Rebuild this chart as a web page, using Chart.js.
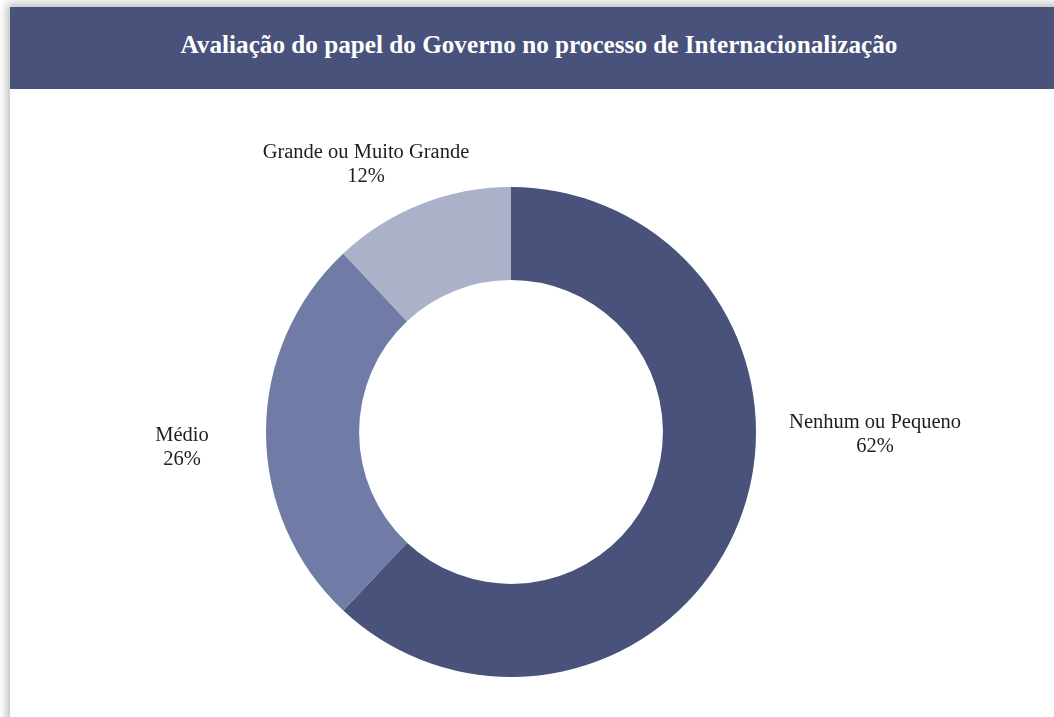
<!DOCTYPE html>
<html lang="pt">
<head>
<meta charset="utf-8">
<title>Avaliação do papel do Governo</title>
<script src="https://cdn.jsdelivr.net/npm/chart.js@4/dist/chart.umd.min.js"></script>
<style>
    html, body {
        margin: 0;
        padding: 0;
        background: #ffffff;
        overflow: hidden;
    }
    .panel {
        position: absolute;
        left: 10px;
        top: 7px;
        width: 1058px;
        height: 720px;
        background: #ffffff;
        box-shadow: 0 0 9px 3px rgba(0, 0, 0, 0.28);
    }
    .panel-header {
        height: 82px;
        background: #48527a;
        color: #ffffff;
        font-family: "Liberation Serif", "DejaVu Serif", serif;
        font-weight: bold;
        font-size: 25.2px;
        line-height: 76px;
        text-align: center;
    }
    .chart-wrap {
        position: relative;
        width: 1058px;
        height: 628px;
    }
</style>
</head>
<body>
<div class="panel">
    <div class="panel-header">Avaliação do papel do Governo no processo de Internacionalização</div>
    <div class="chart-wrap"><canvas id="govChart"></canvas></div>
</div>

<script>
// Categories and shares (%), clockwise from 12 o'clock
const categories = ["Nenhum ou Pequeno", "Médio", "Grande ou Muito Grande"];
const shares = [62, 26, 12];
const sliceColors = ["#48527a", "#717ca6", "#abb1c8"];

// Where each label sits, in multiples of the outer radius from the centre
const labelAnchors = [
    { x: 1.486, y: 0.01 },
    { x: -1.343, y: 0.062 },
    { x: -0.592, y: -1.09 }
];

// Draws "category / value%" as two centred lines next to each slice
const sliceLabels = {
    id: "sliceLabels",
    afterDatasetsDraw(chart) {
        const meta = chart.getDatasetMeta(0);
        const ctx = chart.ctx;
        const data = chart.data.datasets[0].data;
        ctx.save();
        ctx.font = "20.5px 'Liberation Serif', 'DejaVu Serif', serif";
        ctx.fillStyle = "#1e1e1e";
        ctx.textAlign = "center";
        ctx.textBaseline = "middle";
        meta.data.forEach((arc, i) => {
            const r = arc.outerRadius;
            const cx = arc.x + labelAnchors[i].x * r;
            const cy = arc.y + labelAnchors[i].y * r;
            ctx.fillText(chart.data.labels[i], cx, cy - 12);
            ctx.fillText(data[i] + "%", cx, cy + 12);
        });
        ctx.restore();
    }
};

document.addEventListener("DOMContentLoaded", () => {
    const ctx = document.getElementById("govChart");

    new Chart(ctx, {
        type: "doughnut",
        data: {
            labels: categories,
            datasets: [{
                data: shares,
                backgroundColor: sliceColors,
                borderWidth: 0,
                hoverOffset: 0
            }]
        },
        options: {
            responsive: true,
            maintainAspectRatio: false,
            animation: false,
            cutout: "62%",
            layout: {
                padding: { left: 0, right: 56, top: 98, bottom: 40 }
            },
            plugins: {
                legend: { display: false },
                tooltip: { enabled: false }
            }
        },
        plugins: [sliceLabels]
    });
});
</script>
</body>
</html>
